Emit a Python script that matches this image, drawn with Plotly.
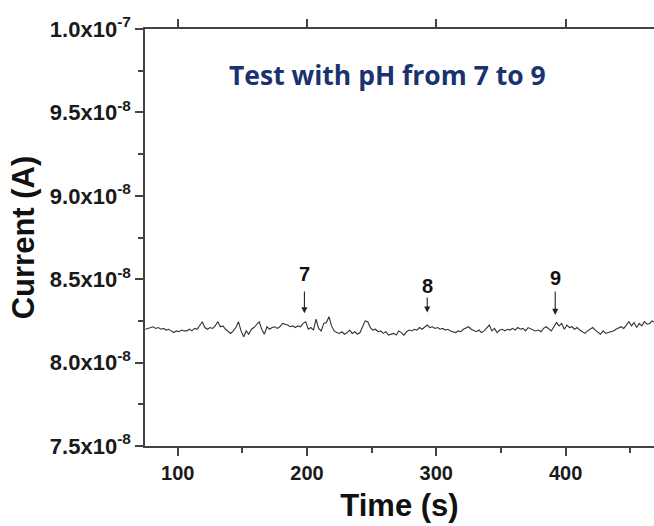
import plotly.graph_objects as go

# Time samples (s)
time_s = list(range(75, 471, 2))

# Current, in units of 1e-8 A
current_e8 = [
    8.200, 8.205, 8.210, 8.215, 8.205, 8.210, 8.200, 8.205, 8.195, 8.200,
    8.190, 8.180, 8.190, 8.185, 8.195, 8.190, 8.190, 8.200, 8.190, 8.205,
    8.200, 8.225, 8.245, 8.210, 8.200, 8.210, 8.205, 8.220, 8.245, 8.215,
    8.220, 8.200, 8.185, 8.175, 8.190, 8.210, 8.245, 8.190, 8.155, 8.190,
    8.170, 8.200, 8.210, 8.225, 8.245, 8.200, 8.170, 8.215, 8.200, 8.210,
    8.215,
    8.205, 8.215, 8.235, 8.230, 8.225, 8.215, 8.220, 8.210, 8.220, 8.215,
    8.235, 8.245, 8.200, 8.210, 8.195, 8.260, 8.205, 8.190, 8.235, 8.240,
    8.275, 8.220, 8.190, 8.180, 8.175, 8.185, 8.170, 8.180, 8.195, 8.175,
    8.185, 8.170, 8.180, 8.215, 8.250, 8.245, 8.210, 8.195, 8.200, 8.185,
    8.190, 8.175, 8.185, 8.165, 8.170, 8.175, 8.165, 8.190, 8.180, 8.165,
    8.185, 8.195, 8.190, 8.200, 8.195, 8.210, 8.200, 8.215, 8.225, 8.210,
    8.215, 8.205, 8.210, 8.200, 8.205, 8.195, 8.200, 8.190, 8.185, 8.180,
    8.190, 8.185, 8.200, 8.210, 8.215, 8.200, 8.190, 8.185, 8.195, 8.180,
    8.190, 8.210, 8.225, 8.190, 8.205, 8.180, 8.195, 8.200, 8.190, 8.200,
    8.195, 8.205, 8.195, 8.210, 8.200, 8.205, 8.190, 8.210, 8.200, 8.195,
    8.190, 8.195, 8.185, 8.205, 8.215, 8.205, 8.190, 8.215, 8.240, 8.220,
    8.235, 8.200, 8.225, 8.210, 8.215, 8.200, 8.210, 8.195, 8.185, 8.175,
    8.190, 8.200, 8.210, 8.195, 8.180, 8.170, 8.190, 8.175, 8.180, 8.185,
    8.190, 8.200, 8.210, 8.215, 8.205, 8.225, 8.245, 8.220, 8.240, 8.210,
    8.235, 8.220, 8.245, 8.230, 8.235, 8.250, 8.240,
]
current_a = [v * 1e-8 for v in current_e8]

# Tick labels
y_tickvals = [7.5e-8, 8.0e-8, 8.5e-8, 9.0e-8, 9.5e-8, 1.0e-7]
y_ticktext = ["7.5x10<sup>-8</sup>", "8.0x10<sup>-8</sup>", "8.5x10<sup>-8</sup>",
              "9.0x10<sup>-8</sup>", "9.5x10<sup>-8</sup>", "1.0x10<sup>-7</sup>"]
x_tickvals = [100, 200, 300, 400]

# pH markers: label, time, arrow head, arrow tail, label position (A)
ph_labels = ["7", "8", "9"]
ph_times = [198.0, 293.0, 392.0]
ph_heads = [8.296e-8, 8.300e-8, 8.286e-8]
ph_tails = [8.436e-8, 8.400e-8, 8.436e-8]
ph_text_y = [8.53e-8, 8.46e-8, 8.51e-8]

axis_col = "#444444"
font_main = "Liberation Sans, Arial, sans-serif"

fig = go.Figure()
fig.add_trace(go.Scatter(x=time_s, y=current_a, mode="lines",
                         line=dict(color="#333333", width=1.1), showlegend=False))
# dummy trace for top axis
fig.add_trace(go.Scatter(x=[time_s[0]], y=[current_a[0]], xaxis="x2", mode="markers",
                         marker=dict(opacity=0), showlegend=False, hoverinfo="skip"))

for lab, t, h, tl, ty in zip(ph_labels, ph_times, ph_heads, ph_tails, ph_text_y):
    fig.add_annotation(x=t, y=h, ax=t, ay=tl, xref="x", yref="y", axref="x", ayref="y",
                       text="", showarrow=True, arrowhead=2, arrowsize=1.1,
                       arrowwidth=1.1, arrowcolor="#222222", standoff=0, startstandoff=0)
    fig.add_annotation(x=t, y=ty, xref="x", yref="y", text=lab, showarrow=False,
                       font=dict(family=font_main, size=20, color="#111111", weight="bold"))

fig.add_annotation(x=0.477, y=0.89, xref="paper", yref="paper", text="Test with pH from 7 to 9",
                   showarrow=False, xanchor="center", yanchor="middle",
                   font=dict(family="Open Sans, sans-serif", size=26.5, color="#1a3270", weight="bold"))

fig.update_layout(
    width=654, height=526,
    margin=dict(l=145, r=0, t=29, b=80),
    paper_bgcolor="white", plot_bgcolor="white",
    xaxis=dict(range=[74.7, 468.4], tickmode="array", tickvals=x_tickvals,
               ticks="outside", ticklen=8, tickwidth=1.5, tickcolor=axis_col,
               showline=True, linecolor=axis_col, linewidth=1.5, showgrid=False,
               zeroline=False,
               minor=dict(tickmode="linear", tick0=50, dtick=50, ticks="outside",
                          ticklen=5, tickwidth=1.5, tickcolor=axis_col, showgrid=False),
               tickfont=dict(family=font_main, size=20, color="#1a1a1a", weight="bold"),
               title=dict(text="Time (s)", standoff=12,
                          font=dict(family=font_main, size=31, color="#111111", weight="bold"))),
    xaxis2=dict(overlaying="x", side="top", matches="x", range=[74.7, 468.4],
                tickmode="array", tickvals=x_tickvals, showticklabels=False,
                ticks="outside", ticklen=8, tickwidth=1.5, tickcolor=axis_col,
                showline=True, linecolor=axis_col, linewidth=1.5, showgrid=False,
                zeroline=False),
    yaxis=dict(range=[7.5e-8, 1.0e-7], tickmode="array", tickvals=y_tickvals,
               ticktext=y_ticktext, ticks="outside", ticklen=8, tickwidth=1.5,
               tickcolor=axis_col, showline=True, linecolor=axis_col, linewidth=1.5,
               showgrid=False, zeroline=False,
               minor=dict(tickmode="linear", tick0=7.5e-8, dtick=2.5e-9, ticks="outside",
                          ticklen=5, tickwidth=1.5, tickcolor=axis_col, showgrid=False),
               tickfont=dict(family=font_main, size=22, color="#1a1a1a", weight="bold"),
               title=dict(text="Current (A)", standoff=6,
                          font=dict(family=font_main, size=31, color="#111111", weight="bold"))),
)

fig.write_html("out.html", config={"displayModeBar": False},
               post_script="document.body.style.margin='0';")
